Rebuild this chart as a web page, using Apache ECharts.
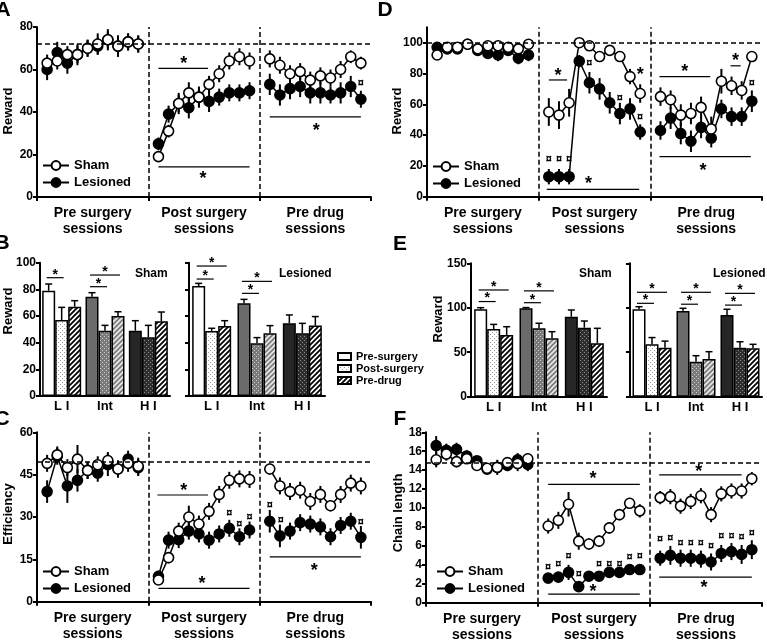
<!DOCTYPE html>
<html>
<head>
<meta charset="utf-8">
<script src="https://cdn.jsdelivr.net/npm/echarts@6/dist/echarts.min.js"></script>
<style>
html, body { margin: 0; padding: 0; background: #fff; }
#chart { width: 767px; height: 641px; }
</style>
</head>
<body>
<div id="chart"></div>
<script>
var FONT = "'Liberation Sans', Arial, sans-serif";

// line panels: 10 sessions per block, blocks split at x = 11 and x = 22
var sections = ['Pre surgery\nsessions', 'Post surgery\nsessions', 'Pre drug\nsessions'];

// A - reward
var aShamPre = [63, 64, 67, 67, 70, 72, 74, 71, 73, 72];
var aShamPost = [19, 31, 44, 49, 47, 53, 58, 64, 66, 64];
var aShamDrug = [65, 62, 58, 59, 55, 57, 56, 60, 66, 63];
var aLesPre = [60, 68, 63, 67, 70, 71, 74, 71, 73, 72];
var aLesPost = [25, 39, 44, 42, 47, 45, 47, 49, 49, 50];
var aLesDrug = [53, 48, 51, 52, 49, 49, 48, 49, 52, 46];
var aShamPreErr = [4, 4, 4, 4, 4, 5, 5, 5, 4, 4];
var aShamPostErr = [2, 3, 4, 5, 4, 4, 4, 4, 4, 4];
var aShamDrugErr = [4, 4, 4, 4, 4, 4, 4, 4, 3, 3];
var aLesPreErr = [5, 5, 5, 5, 4, 4, 4, 5, 4, 4];
var aLesPostErr = [3, 4, 5, 5, 5, 5, 4, 4, 4, 4];
var aLesDrugErr = [5, 5, 5, 5, 5, 5, 4, 5, 5, 4];

// D - reward
var dShamPre = [92, 97, 97, 99, 96, 98, 98, 97, 96, 99];
var dShamPost = [55, 53, 61, 100, 98, 91, 95, 91, 78, 67];
var dShamDrug = [65, 63, 53, 54, 58, 44, 75, 72, 69, 91];
var dLesPre = [97, 96, 96, 99, 95, 93, 92, 95, 90, 92];
var dLesPost = [13, 13, 13, 88, 74, 70, 61, 54, 57, 42];
var dLesDrug = [43, 51, 41, 36, 45, 38, 57, 52, 52, 62];
var dShamPreErr = [3, 2, 2, 2, 2, 2, 2, 2, 3, 2];
var dShamPostErr = [9, 9, 9, 1, 2, 3, 2, 3, 5, 6];
var dShamDrugErr = [6, 6, 7, 7, 7, 8, 8, 6, 6, 2];
var dLesPreErr = [2, 2, 2, 2, 3, 3, 4, 3, 4, 4];
var dLesPostErr = [5, 5, 5, 4, 7, 7, 7, 7, 7, 5];
var dLesDrugErr = [6, 7, 7, 7, 7, 6, 6, 6, 6, 7];

// C - efficiency
var cShamPre = [49, 52, 47.5, 50.5, 46.5, 48.5, 50, 47, 49, 48];
var cShamPost = [7.7, 15.6, 25, 30, 27.5, 32, 38, 43, 43.5, 43.3];
var cShamDrug = [47, 41, 39, 39.5, 35.5, 38, 34, 38, 42, 41];
var cLesPre = [39, 51.5, 41, 43, 46.5, 45.5, 48.5, 47, 50.5, 47.5];
var cLesPost = [9, 21.8, 22, 25, 24, 21.8, 24, 26, 23, 25.4];
var cLesDrug = [28.5, 23.3, 25, 28, 27.5, 26.5, 23, 27, 28.5, 22.8];
var cShamPreErr = [3, 3, 3, 5, 3, 3, 3, 3, 3, 3];
var cShamPostErr = [1, 2, 3, 4, 3, 3, 3, 3, 3, 3];
var cShamDrugErr = [2, 3, 3, 3, 3, 3, 2, 3, 3, 3];
var cLesPreErr = [4, 3, 6, 4, 3, 3, 4, 3, 3, 3];
var cLesPostErr = [2, 3, 3, 3, 3, 3, 3, 3, 3, 3];
var cLesDrugErr = [4, 4, 3, 3, 3, 3, 3, 3, 3, 4];

// F - chain length
var fShamPre = [15.1, 15.7, 14.9, 15.2, 14.5, 14.2, 14.3, 14.8, 14.7, 15.2];
var fShamPost = [8.1, 8.7, 10.4, 6.5, 6.2, 6.5, 7.9, 9.3, 10.5, 9.7];
var fShamDrug = [11.1, 11.2, 10.2, 10.7, 11.3, 9.3, 11.5, 11.8, 11.8, 13.1];
var fLesPre = [16.6, 16.1, 16.2, 15.5, 15.0, 14.1, 14.3, 14.5, 15.1, 14.6];
var fLesPost = [2.6, 2.7, 3.2, 1.7, 2.8, 2.8, 3.2, 3.2, 3.5, 3.5];
var fLesDrug = [4.7, 5.0, 4.7, 4.7, 4.6, 4.3, 5.2, 5.4, 5.1, 5.6];
var fShamPreErr = [0.8, 0.7, 0.6, 0.5, 0.5, 0.5, 0.5, 0.5, 0.8, 0.6];
var fShamPostErr = [0.8, 0.9, 1.3, 0.9, 0.6, 0.6, 0.6, 0.6, 0.5, 0.7];
var fShamDrugErr = [0.7, 0.8, 0.8, 0.8, 0.8, 0.8, 0.8, 0.8, 0.8, 0.7];
var fLesPreErr = [1.0, 0.7, 0.7, 0.6, 0.5, 0.5, 0.8, 0.6, 0.7, 0.7];
var fLesPostErr = [0.3, 0.5, 0.8, 0.3, 0.4, 0.3, 0.4, 0.4, 0.5, 0.5];
var fLesDrugErr = [0.8, 1.0, 0.9, 0.9, 0.9, 0.9, 0.9, 0.9, 1.0, 1.0];

// significance marks: lines [x1, x2, y], stars / currency signs [x, y]
var aSigLines = [[12, 16.9, 60.5], [12, 21, 14.2], [23, 32, 37.7]];
var aStars = [[14.5, 64.5], [16.4, 10.2], [27.6, 33]];
var aCurr = [[32, 53.5]];
var dSigLines = [[12, 13.8, 75.8], [11.8, 20.9, 4.8], [22.9, 27.9, 78], [29.9, 30.9, 85], [22.9, 31.9, 26]];
var dStars = [[12.9, 81.2], [15.9, 10.8], [21, 81.8], [25.4, 83.3], [30.4, 91], [27.2, 19.5]];
var dCurr = [[12, 24.2], [13, 24.2], [14, 24.2], [16, 86.6], [19, 63.9], [21, 52], [32, 74]];
var cSigLines = [[11.9, 16.9, 37.8], [12, 21, 4.7], [23, 32, 15.9]];
var cStars = [[14.5, 40.7], [16.3, 7.7], [27.4, 12.4]];
var cCurr = [[19, 31.5], [20, 27.7], [21, 30.1], [23, 34.2], [24.1, 28.9], [32, 28.3]];
var fSigLines = [[12, 21, 12.5], [12, 21, 0.9], [22.9, 31, 13.5], [22.9, 32, 2.7]];
var fStars = [[16.4, 13.5], [16.4, 1.5], [26.8, 14.2], [27.3, 2.0]];
var fCurr = [[12, 3.8], [13, 4.1], [14, 4.9], [15, 3.0], [17, 4.1], [18, 4.1], [19, 4.1], [20, 4.8], [21, 4.9],
    [23, 6.7], [24, 6.8], [25, 6.3], [26, 6.3], [27, 6.3], [28, 6.0], [29, 7.0], [30, 7.0], [31, 6.9], [32, 7.4]];

// B / E bar panels
var barCats = ['L I', 'Int', 'H I'];
var bShamPre = [79, 74.5, 49], bShamPreErr = [5, 3, 7.5];
var bShamPost = [57, 49, 44], bShamPostErr = [9.5, 4, 9];
var bShamDrug = [67, 60, 56], bShamDrugErr = [4.5, 3.2, 7];
var bLesPre = [82.5, 69.5, 54.5], bLesPreErr = [2, 3, 6.3];
var bLesPost = [48.8, 39.5, 47], bLesPostErr = [2, 4.3, 7.5];
var bLesDrug = [52.5, 47, 52.8], bLesDrugErr = [4, 5.8, 6.8];
var eShamPre = [98.2, 99.4, 90], eShamPreErr = [1.9, 0.8, 7.5];
var eShamPost = [76, 77, 77.6], eShamPostErr = [5.3, 5.6, 7.5];
var eShamDrug = [69.4, 65.6, 60], eShamDrugErr = [9.3, 7.5, 16.9];
var eLesPre = [98.2, 96.4, 92], eLesPreErr = [3, 3, 6.3];
var eLesPost = [59, 39.4, 55], eLesPostErr = [7.5, 6.7, 6.8];
var eLesDrug = [55, 42.4, 54.4], eLesDrugErr = [7.5, 8.2, 4.5];
// [category, bar from, bar to, y]
var bShamSig = [[0, 0, 1, 88.75], [1, 0, 1, 82], [1, 0, 2, 90.75]];
var bLesSig = [[0, 0, 1, 87.75], [0, 0, 2, 97.5], [1, 0, 1, 77], [1, 0, 2, 86]];
var eShamSig = [[0, 0, 1, 107], [0, 0, 2, 120], [1, 0, 1, 105.7], [1, 0, 2, 119]];
var eLesSig = [[0, 0, 1, 105], [0, 0, 2, 117.4], [1, 0, 1, 104], [1, 0, 2, 117.4], [2, 0, 1, 103], [2, 0, 2, 116.2]];

var BAR_W = 13;

function dotPattern(bg, dot) {
    var c = document.createElement('canvas');
    c.width = 4; c.height = 4;
    var g = c.getContext('2d');
    g.fillStyle = bg; g.fillRect(0, 0, 4, 4);
    g.fillStyle = dot; g.fillRect(0, 0, 1, 1); g.fillRect(2, 2, 1, 1);
    return { image: c, repeat: 'repeat' };
}

function hatchPattern(bg, fg) {
    var c = document.createElement('canvas');
    c.width = 5; c.height = 5;
    var g = c.getContext('2d');
    g.fillStyle = bg; g.fillRect(0, 0, 5, 5);
    g.strokeStyle = fg; g.lineWidth = 1.8;
    g.beginPath();
    g.moveTo(-1, 6); g.lineTo(6, -1);
    g.moveTo(-3.5, 3.5); g.lineTo(3.5, -3.5);
    g.moveTo(1.5, 8.5); g.lineTo(8.5, 1.5);
    g.stroke();
    return { image: c, repeat: 'repeat' };
}

var preFills = ['#fff', '#6b6b6b', '#262626'];
var postFills = [dotPattern('#fff', '#9a9a9a'), dotPattern('#7a7a7a', '#cfcfcf'), dotPattern('#2e2e2e', '#8a8a8a')];
var drugFills = [hatchPattern('#fff', '#000'), hatchPattern('#7a7a7a', '#e6e6e6'), hatchPattern('#fff', '#000')];

function secXY(pre, post, drug) {
    var pts = [];
    [pre, post, drug].forEach(function (arr, s) {
        arr.forEach(function (v, i) { pts.push([s * 11 + i + 1, v]); });
        if (s < 2) pts.push([s * 11 + 11, '-']);
    });
    return pts;
}

function secErr(vals, errs) {
    var pts = [];
    vals.forEach(function (arr, s) {
        arr.forEach(function (v, i) { pts.push([s * 11 + i + 1, v, errs[s][i]]); });
    });
    return pts;
}

function axisStyle() {
    return { show: true, onZero: false, lineStyle: { color: '#000', width: 2 } };
}

function lineXAxis(gi) {
    return {
        type: 'value', gridIndex: gi, min: 0, max: 33,
        axisLine: axisStyle(),
        axisTick: { show: true, length: 4, lineStyle: { color: '#000', width: 2 }, customValues: [0, 11, 22, 33] },
        axisLabel: {
            customValues: [5.5, 16.5, 27.5], margin: 8, color: '#000',
            fontFamily: FONT, fontSize: 14, fontWeight: 'bold', lineHeight: 16,
            formatter: function (v) { return sections[Math.round((v - 5.5) / 11)]; }
        },
        splitLine: { show: false }
    };
}

function valueYAxis(gi, max, ticks, showLabels) {
    return {
        type: 'value', gridIndex: gi, min: 0, max: max,
        axisLine: axisStyle(),
        axisTick: { show: true, length: 4, lineStyle: { color: '#000', width: 2 }, customValues: ticks },
        axisLabel: {
            show: showLabels, customValues: ticks, margin: 4, color: '#000',
            fontFamily: FONT, fontSize: 12, fontWeight: 'bold'
        },
        splitLine: { show: false }
    };
}

function barXAxis(gi) {
    return {
        type: 'category', gridIndex: gi, data: barCats,
        axisLine: axisStyle(),
        axisTick: { show: false },
        axisLabel: { margin: 4, color: '#000', fontFamily: FONT, fontSize: 13, fontWeight: 'bold' }
    };
}

function lineSeries(name, gi, data, filled, ref) {
    var s = {
        name: name, type: 'line', xAxisIndex: gi, yAxisIndex: gi, data: data,
        symbol: 'circle', symbolSize: 10, showAllSymbol: true, connectNulls: false,
        lineStyle: { color: '#000', width: 1.5 },
        itemStyle: { color: filled ? '#000' : '#fff', borderColor: '#000', borderWidth: 1.6 },
        emphasis: { disabled: true }, z: filled ? 3 : 4
    };
    if (ref !== undefined) {
        s.markLine = {
            silent: true, symbol: ['none', 'none'], label: { show: false },
            lineStyle: { color: '#000', type: [5, 3], width: 1.5 },
            emphasis: { disabled: true },
            data: [{ yAxis: ref }, { xAxis: 11 }, { xAxis: 22 }]
        };
    }
    return s;
}

function errSeries(gi, data) {
    return {
        type: 'custom', xAxisIndex: gi, yAxisIndex: gi, silent: true, z: 2, data: data,
        renderItem: function (params, api) {
            var x = api.value(0), y = api.value(1), e = api.value(2);
            var p1 = api.coord([x, y - e]), p2 = api.coord([x, y + e]);
            return { type: 'line', shape: { x1: p1[0], y1: p1[1], x2: p2[0], y2: p2[1] }, style: { stroke: '#000', lineWidth: 2 } };
        }
    };
}

function sigLineSeries(gi, data) {
    return {
        type: 'custom', xAxisIndex: gi, yAxisIndex: gi, silent: true, z: 5, data: data,
        renderItem: function (params, api) {
            var p1 = api.coord([api.value(0), api.value(2)]), p2 = api.coord([api.value(1), api.value(2)]);
            return { type: 'line', shape: { x1: p1[0], y1: p1[1], x2: p2[0], y2: p2[1] }, style: { stroke: '#000', lineWidth: 1.2 } };
        }
    };
}

function markTextSeries(gi, data, ch, size, shift) {
    return {
        type: 'custom', xAxisIndex: gi, yAxisIndex: gi, silent: true, z: 5, data: data,
        renderItem: function (params, api) {
            var p = api.coord([api.value(0), api.value(1)]);
            return {
                type: 'text', x: p[0], y: p[1] + shift,
                style: { text: ch, fill: '#000', font: 'bold ' + size + 'px ' + FONT, textAlign: 'center', textVerticalAlign: 'middle' }
            };
        }
    };
}

function barSeries(name, gi, vals, fills) {
    return {
        name: name, type: 'bar', xAxisIndex: gi, yAxisIndex: gi, barWidth: BAR_W, barGap: '0%',
        data: vals.map(function (v, i) { return { value: v, itemStyle: { color: fills[i] } }; }),
        itemStyle: { color: fills[0], borderColor: '#000', borderWidth: 1.5 },
        emphasis: { disabled: true }, z: 2
    };
}

function barErrSeries(gi, vals, errs, slot) {
    return {
        type: 'custom', xAxisIndex: gi, yAxisIndex: gi, silent: true, z: 3,
        data: vals.map(function (v, i) { return [i, v, errs[i]]; }),
        renderItem: function (params, api) {
            var base = api.coord([api.value(0), api.value(1)]);
            var tip = api.coord([api.value(0), api.value(1) + api.value(2)]);
            var x = base[0] + (slot - 1) * BAR_W;
            return {
                type: 'group', children: [
                    { type: 'line', shape: { x1: x, y1: base[1], x2: x, y2: tip[1] }, style: { stroke: '#000', lineWidth: 1.5 } },
                    { type: 'line', shape: { x1: x - 3.5, y1: tip[1], x2: x + 3.5, y2: tip[1] }, style: { stroke: '#000', lineWidth: 1.5 } }
                ]
            };
        }
    };
}

function barSigSeries(gi, data) {
    return {
        type: 'custom', xAxisIndex: gi, yAxisIndex: gi, silent: true, z: 4, data: data,
        renderItem: function (params, api) {
            var p = api.coord([api.value(0), api.value(3)]);
            var x1 = p[0] + (api.value(1) - 1) * BAR_W - 2;
            var x2 = p[0] + (api.value(2) - 1) * BAR_W + 2;
            return {
                type: 'group', children: [
                    { type: 'line', shape: { x1: x1, y1: p[1], x2: x2, y2: p[1] }, style: { stroke: '#000', lineWidth: 1.2 } },
                    {
                        type: 'text', x: (x1 + x2) / 2, y: p[1] - 3,
                        style: { text: '*', fill: '#000', font: 'bold 14px ' + FONT, textAlign: 'center', textVerticalAlign: 'middle' }
                    }
                ]
            };
        }
    };
}

function linePanel(gi, sham, les, shamErr, lesErr, ref, sigLines, stars, curr) {
    return [
        errSeries(gi, secErr(les, lesErr)),
        errSeries(gi, secErr(sham, shamErr)),
        lineSeries('Lesioned', gi, secXY(les[0], les[1], les[2]), true),
        lineSeries('Sham', gi, secXY(sham[0], sham[1], sham[2]), false, ref),
        sigLineSeries(gi, sigLines),
        markTextSeries(gi, stars, '*', 18, 4),
        markTextSeries(gi, curr, '\u00a4', 11, 0)
    ];
}

function barPanel(gi, pre, post, drug, preErr, postErr, drugErr, sig) {
    return [
        barSeries('Pre-surgery', gi, pre, preFills),
        barSeries('Post-surgery', gi, post, postFills),
        barSeries('Pre-drug', gi, drug, drugFills),
        barErrSeries(gi, pre, preErr, 0),
        barErrSeries(gi, post, postErr, 1),
        barErrSeries(gi, drug, drugErr, 2),
        barSigSeries(gi, sig)
    ];
}

function lineLegend(left, top) {
    return {
        orient: 'vertical', left: left, top: top, padding: 0, itemWidth: 26, itemHeight: 11, itemGap: 4,
        selectedMode: false, data: ['Sham', 'Lesioned'],
        textStyle: { color: '#000', fontFamily: FONT, fontSize: 13, fontWeight: 'bold' }
    };
}

function label(text, x, y, size, rotate, align) {
    return {
        type: 'text', x: x, y: y, rotation: rotate ? Math.PI / 2 : 0, silent: true,
        style: {
            text: text, fill: '#000', font: 'bold ' + size + 'px ' + FONT,
            textAlign: align || 'center', textVerticalAlign: rotate ? 'middle' : 'top'
        }
    };
}

var chart = echarts.init(document.getElementById('chart'));

var series = [].concat(
    linePanel(0, [aShamPre, aShamPost, aShamDrug], [aLesPre, aLesPost, aLesDrug],
        [aShamPreErr, aShamPostErr, aShamDrugErr], [aLesPreErr, aLesPostErr, aLesDrugErr], 72, aSigLines, aStars, aCurr),
    linePanel(1, [dShamPre, dShamPost, dShamDrug], [dLesPre, dLesPost, dLesDrug],
        [dShamPreErr, dShamPostErr, dShamDrugErr], [dLesPreErr, dLesPostErr, dLesDrugErr], 100, dSigLines, dStars, dCurr),
    linePanel(2, [cShamPre, cShamPost, cShamDrug], [cLesPre, cLesPost, cLesDrug],
        [cShamPreErr, cShamPostErr, cShamDrugErr], [cLesPreErr, cLesPostErr, cLesDrugErr], 49.6, cSigLines, cStars, cCurr),
    linePanel(3, [fShamPre, fShamPost, fShamDrug], [fLesPre, fLesPost, fLesDrug],
        [fShamPreErr, fShamPostErr, fShamDrugErr], [fLesPreErr, fLesPostErr, fLesDrugErr], 14.8, fSigLines, fStars, fCurr),
    barPanel(4, bShamPre, bShamPost, bShamDrug, bShamPreErr, bShamPostErr, bShamDrugErr, bShamSig),
    barPanel(5, bLesPre, bLesPost, bLesDrug, bLesPreErr, bLesPostErr, bLesDrugErr, bLesSig),
    barPanel(6, eShamPre, eShamPost, eShamDrug, eShamPreErr, eShamPostErr, eShamDrugErr, eShamSig),
    barPanel(7, eLesPre, eLesPost, eLesDrug, eLesPreErr, eLesPostErr, eLesDrugErr, eLesSig)
);

var option = {
    animation: false,
    backgroundColor: '#fff',
    grid: [
        { left: 37, top: 27, width: 334, height: 170 },
        { left: 427, top: 27.3, width: 335, height: 169.4 },
        { left: 37, top: 432.3, width: 334, height: 169.4 },
        { left: 426, top: 432.3, width: 336, height: 170.4 },
        { left: 40, top: 262.7, width: 130, height: 133.3 },
        { left: 189, top: 262.7, width: 136, height: 133.3 },
        { left: 471, top: 263.3, width: 136, height: 133.4 },
        { left: 630, top: 263.3, width: 132, height: 133.4 }
    ].map(function (g) { g.outerBoundsMode = 'none'; return g; }),
    xAxis: [lineXAxis(0), lineXAxis(1), lineXAxis(2), lineXAxis(3), barXAxis(4), barXAxis(5), barXAxis(6), barXAxis(7)],
    yAxis: [
        valueYAxis(0, 80, [0, 20, 40, 60, 80], true),
        valueYAxis(1, 110, [0, 20, 40, 60, 80, 100], true),
        valueYAxis(2, 60, [0, 15, 30, 45, 60], true),
        valueYAxis(3, 18, [0, 2, 4, 6, 8, 10, 12, 14, 16, 18], true),
        valueYAxis(4, 100, [0, 20, 40, 60, 80, 100], true),
        valueYAxis(5, 100, [0, 20, 40, 60, 80, 100], false),
        valueYAxis(6, 150, [0, 50, 100, 150], true),
        valueYAxis(7, 150, [0, 50, 100, 150], false)
    ],
    legend: [
        lineLegend(42, 159),
        lineLegend(432, 160),
        lineLegend(42, 565),
        lineLegend(436, 565),
        {
            orient: 'vertical', left: 337, top: 351, padding: 0, itemWidth: 13, itemHeight: 7, itemGap: 1,
            icon: 'rect', selectedMode: false, data: ['Pre-surgery', 'Post-surgery', 'Pre-drug'],
            textStyle: { color: '#000', fontFamily: FONT, fontSize: 11, fontWeight: 'bold' }
        }
    ],
    graphic: [
        label('A', 3, 0, 21), label('D', 385, 0, 21),
        label('B', 2, 233, 21), label('E', 400, 234, 21),
        label('C', 2, 409, 21), label('F', 400, 409, 21),
        label('Reward', 8.5, 111, 13, true), label('Reward', 397, 111, 13, true),
        label('Efficiency', 8.5, 514, 13, true), label('Chain length', 398.5, 513, 13, true),
        label('Reward', 8.5, 311, 13, true), label('Reward', 438.5, 319, 13, true),
        label('Sham', 135, 268, 12, false, 'left'), label('Lesioned', 279, 268, 12, false, 'left'),
        label('Sham', 579, 268, 12, false, 'left'), label('Lesioned', 713, 268, 12, false, 'left')
    ],
    series: series
};

chart.setOption(option);
</script>
</body>
</html>
